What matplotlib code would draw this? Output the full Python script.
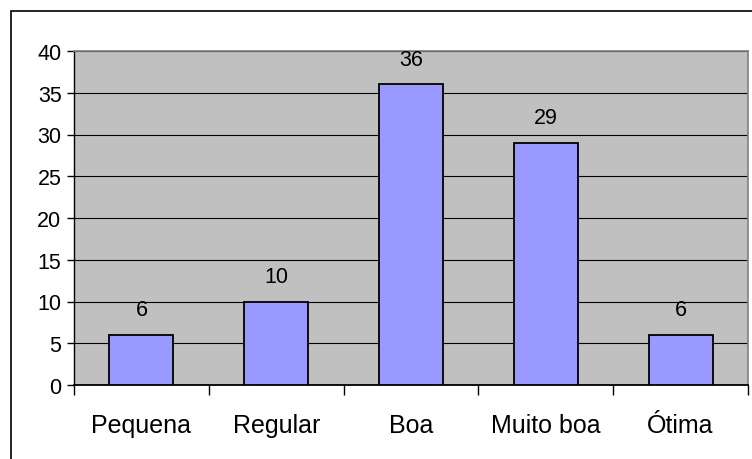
import matplotlib
matplotlib.use("Agg")
import matplotlib.pyplot as plt
from matplotlib.patches import Rectangle

categories = ["Pequena", "Regular", "Boa", "Muito boa", "Ótima"]
values = [6, 10, 36, 29, 6]
yticks = [0, 5, 10, 15, 20, 25, 30, 35, 40]

plt.rcParams['font.family'] = ['Liberation Sans', 'DejaVu Sans']

W, H = 752, 460
fig = plt.figure(figsize=(W/100, H/100), dpi=100)
# outer chart border (right/bottom clipped in the reference)
fig.patches.append(Rectangle((11/W, -0.1), 1.2, (H-12)/H + 0.1, transform=fig.transFigure,
                             fill=False, edgecolor='black', linewidth=1.2))

left, right, top, bottom = 74, 748, 52, 386
ax = fig.add_axes([left/W, 1-bottom/H, (right-left)/W, (bottom-top)/H])
ax.set_facecolor('#C0C0C0')
x = list(range(len(categories)))
bars = ax.bar(x, values, width=0.475, color='#9999FF', edgecolor='black', linewidth=1.3, zorder=3)
ax.set_xlim(-0.5, len(categories)-0.5)
ax.set_ylim(0, 40)
ax.set_yticks(yticks)
ax.set_yticklabels([str(v) for v in yticks], fontsize=15.5)
ax.yaxis.grid(True, color='black', linewidth=0.8, zorder=1)
ax.set_axisbelow(True)
ax.set_xticks([i - 0.5 for i in range(len(categories)+1)])
ax.set_xticklabels([])
ax.set_xticks(x, minor=True)
ax.set_xticklabels(categories, minor=True, fontsize=18)
ax.tick_params(axis='x', which='minor', length=0, pad=20)
ax.tick_params(axis='x', which='major', length=7, width=1, direction='out')
ax.tick_params(axis='y', length=5, width=1, direction='out', pad=4)
for s in ['top', 'right']:
    ax.spines[s].set_color('#808080')
    ax.spines[s].set_linewidth(1.2)
ax.spines['left'].set_color('black')
ax.spines['left'].set_linewidth(1)
ax.spines['bottom'].set_color('black')
ax.spines['bottom'].set_linewidth(1.3)

for xi, v in zip(x, values):
    ax.annotate(str(v), (xi, v), xytext=(0, 25), textcoords='offset pixels',
                ha='center', va='center', fontsize=15.5)

fig.savefig('out.png', dpi=100)
